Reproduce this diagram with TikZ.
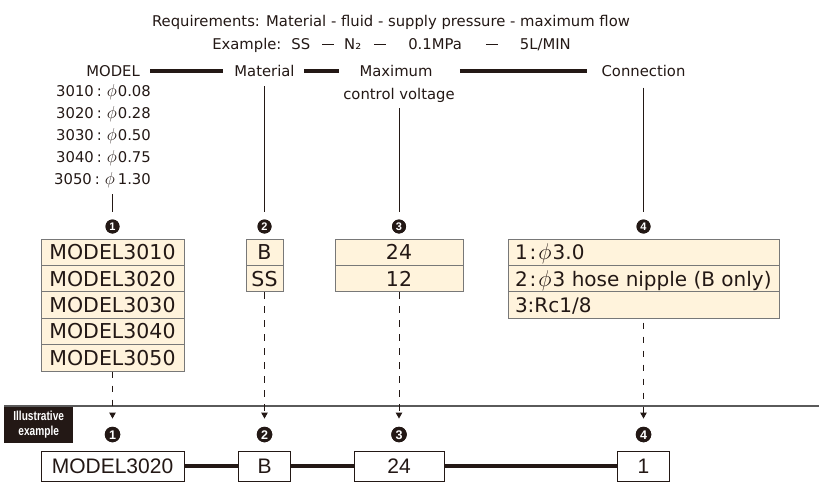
\documentclass[tikz,border=0pt]{standalone}
\usepackage{fontspec}
\setmainfont{DejaVu Sans}
\newfontfamily\libsans{Liberation Sans}
\usetikzlibrary{arrows.meta,backgrounds}
\definecolor{ink}{RGB}{35,24,21}
\definecolor{cream}{RGB}{255,243,220}
\definecolor{rowline}{RGB}{120,120,120}
\definecolor{sepline}{RGB}{90,90,90}
\newcommand{\exdash}{\rule[4.4pt]{12pt}{0.9pt}}
\newcommand{\phiglyph}{\scalebox{1.2}{$\phi$}}
\newcommand{\phirow}{\scalebox{1.1}{$\phi$}}
\begin{document}
\begin{tikzpicture}[x=1pt,y=-1pt,
  lbl/.style={inner sep=0pt,text=ink,font=\fontsize{14.8}{18}\selectfont,text height=10.8pt,text depth=0pt},
  row/.style={draw=rowline,line width=1pt,fill=cream,inner sep=0pt,minimum height=26.4pt,text=ink,font=\fontsize{20.5}{24}\selectfont,text height=15pt,text depth=0pt},
  crow/.style={row,minimum width=271pt,font=\fontsize{20}{24}\selectfont},
  circt/.style={circle,fill=ink,text=white,inner sep=0pt,minimum size=14pt,font=\libsans\bfseries\fontsize{11}{12}\selectfont,text height=7.9pt,text depth=0pt},
  circb/.style={circt,minimum size=15.5pt,font=\libsans\bfseries\fontsize{12.5}{13}\selectfont,text height=9pt},
  bbox/.style={draw=ink,line width=1pt,fill=white,inner sep=0pt,minimum height=30pt,text=ink,font=\libsans\fontsize{21}{24}\selectfont,text height=15pt,text depth=0pt},
  bar/.style={line width=4pt,draw=ink},
  vline/.style={line width=0.9pt,draw=ink},
  dasharrow/.style={line width=0.9pt,draw=ink,dash pattern=on 6.5pt off 7.5pt,-{Triangle[length=6pt,width=6.5pt]}},
]
\useasboundingbox (0,0) rectangle (819,484);

% header
\node[lbl] (req) at (391,21) {Requirements: Material - fluid - supply pressure - maximum flow};
\node[lbl] (ex) at (391.5,44) {Example:\hspace{10pt}SS\hspace{12pt}\exdash\hspace{10pt}N₂\hspace{13pt}\exdash\hspace{22pt}0.1MPa\hspace{24pt}\exdash\hspace{22pt}5L/MIN};

% labels
\node[lbl,anchor=east] (model) at (140,71) {MODEL};
\node[lbl] (mat) at (264.5,71) {Material};
\node[lbl] (max1) at (396,71) {Maximum};
\node[lbl] (max2) at (399,94) {control voltage};
\node[lbl] (conn) at (643.5,71) {Connection};

\draw[bar] ([xshift=10pt]model.east) -- ([xshift=-11pt]mat.west);
\draw[bar] ([xshift=9.5pt]mat.east) -- ([xshift=-20pt]max1.west);
\draw[bar] ([xshift=5pt]max2.east |- max1.east) -- ([xshift=-14.6pt]conn.west);

% model list
\node[lbl,anchor=east] (l1) at (151,91) {3010\hspace{3pt}:\hspace{5pt}\phiglyph\hspace{1pt}0.08};
\node[lbl,anchor=east] (l2) at (151,113) {3020\hspace{3pt}:\hspace{5pt}\phiglyph\hspace{1pt}0.28};
\node[lbl,anchor=east] (l3) at (151,135) {3030\hspace{3pt}:\hspace{5pt}\phiglyph\hspace{1pt}0.50};
\node[lbl,anchor=east] (l4) at (151,157) {3040\hspace{3pt}:\hspace{5pt}\phiglyph\hspace{1pt}0.75};
\node[lbl,anchor=east] (l5) at (151,179) {3050\hspace{3pt}:\hspace{5pt}\phiglyph\hspace{3pt}1.30};

% top circled numbers
\node[circt] (t1) at (112.5,226.5) {1};
\node[circt] (t2) at (264.5,226.5) {2};
\node[circt] (t3) at (399,226.5) {3};
\node[circt] (t4) at (643.5,226.5) {4};

\coordinate (l5b) at (t1.north |- l5.south);
\draw[vline,shorten <=9.6pt,shorten >=7pt] (l5b) -- (t1.north);
\draw[vline,shorten <=9.6pt,shorten >=7pt] (mat.south) -- (t2.north);
\draw[vline,shorten <=8.6pt,shorten >=7pt] (max2.south) -- (t3.north);
\draw[vline,shorten <=11pt,shorten >=7pt] (conn.south) -- (t4.north);

% option boxes
\node[row,minimum width=143pt] (m1) at (112.5,252.2) {MODEL3010};
\node[row,minimum width=143pt] (m2) at (112.5,278.6) {MODEL3020};
\node[row,minimum width=143pt] (m3) at (112.5,305.0) {MODEL3030};
\node[row,minimum width=143pt] (m4) at (112.5,331.4) {MODEL3040};
\node[row,minimum width=143pt] (m5) at (112.5,357.8) {MODEL3050};

\node[row,minimum width=37pt] (a1) at (264.5,252.2) {B};
\node[row,minimum width=37pt] (a2) at (264.5,278.6) {SS};

\node[row,minimum width=128pt] (v1) at (399,252.2) {24};
\node[row,minimum width=128pt] (v2) at (399,278.6) {12};

\node[crow] (c1) at (643.5,252.2) {\makebox[257pt][l]{1\hspace{2pt}:\hspace{2pt}\phirow\hspace{1pt}3.0}};
\node[crow] (c2) at (643.5,278.6) {\makebox[257pt][l]{2\hspace{2pt}:\hspace{2pt}\phirow\hspace{1pt}3 hose nipple (B only)}};
\node[crow] (c3) at (643.5,305.0) {\makebox[257pt][l]{3:Rc1/8}};

% separator and tag
\node[fill=ink,inner sep=0pt,minimum width=69pt,minimum height=37pt,anchor=north west,text=white,align=center,
  font=\libsans\fontsize{13}{15.5}\selectfont\bfseries] (ill) at (4,406)
  {\scalebox{0.78}[1]{Illustrative}\\\scalebox{0.78}[1]{example}};
\coordinate (sepend) at (819,405.5);
\draw[line width=1.3pt,draw=sepline] (ill.north west) -- (ill.north west -| sepend);

% bottom circled numbers
\node[circb] (b1) at (112.5,434.5) {1};
\node[circb] (b2) at (264.5,434.5) {2};
\node[circb] (b3) at (399,434.5) {3};
\node[circb] (b4) at (643.5,434.5) {4};

% solid discs behind the numbers (fixed radii)
\begin{scope}[on background layer]
  \foreach \n in {t1,t2,t3,t4} \fill[ink] (\n.center) circle[radius=7pt];
  \foreach \n in {b1,b2,b3,b4} \fill[ink] (\n.center) circle[radius=7.75pt];
\end{scope}

\draw[dasharrow,shorten >=8pt] (m5.south) -- (b1.north);
\draw[dasharrow,shorten >=8pt] (a2.south) -- (b2.north);
\draw[dasharrow,shorten >=8pt] (v2.south) -- (b3.north);
\draw[dasharrow,shorten <=4pt,shorten >=8pt] (c3.south) -- (b4.north);

% example row
\node[bbox,minimum width=143pt] (e1) at (112.5,466) {MODEL3020};
\node[bbox,minimum width=52pt] (e2) at (264.5,466) {B};
\node[bbox,minimum width=90pt] (e3) at (399,466) {24};
\node[bbox,minimum width=52pt] (e4) at (643.5,466) {1};
\draw[bar] (e1.east) -- (e2.west);
\draw[bar] (e2.east) -- (e3.west);
\draw[bar] (e3.east) -- (e4.west);
\end{tikzpicture}
\end{document}
